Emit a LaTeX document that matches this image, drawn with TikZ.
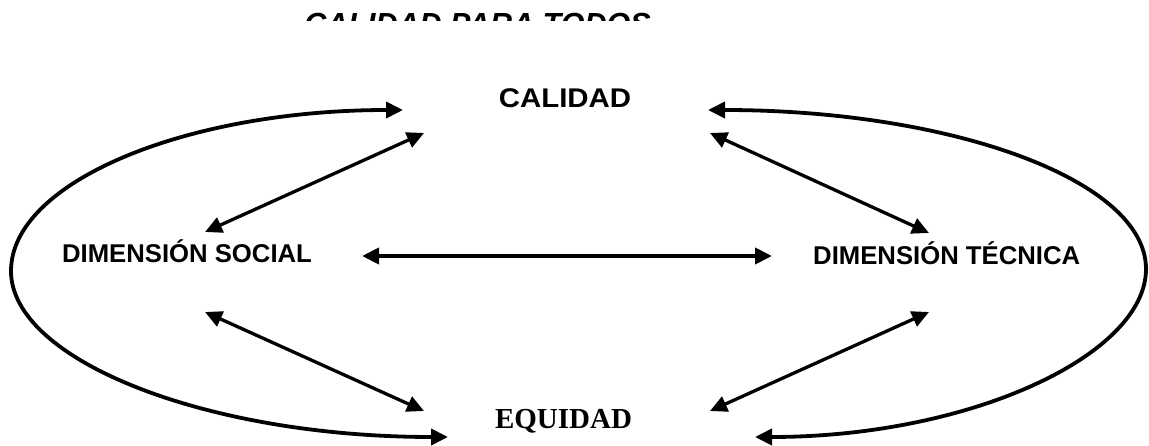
\documentclass[tikz,border=0pt]{standalone}
\usepackage{fontspec}
\setmainfont{Liberation Sans}
\newfontfamily\serifbf{Liberation Serif}
\usetikzlibrary{arrows.meta}
\begin{document}
\begin{tikzpicture}[x=1pt,y=-1pt,
  lbl/.style={font=\bfseries\fontsize{25.7}{30}\selectfont, anchor=base, inner sep=0pt},
  tipb/.tip={Triangle[length=17pt,width=16pt]},
  conn/.style={line width=3.3pt, tipb-tipb},
  loop/.style={line width=3.8pt, tipb-tipb},
]
\useasboundingbox (0,0) rectangle (1149,446);
\begin{scope}
  \clip (0,0) rectangle (1149,20.5);
  \node[anchor=base, inner sep=0pt, font=\bfseries\itshape\fontsize{30.5}{36}\selectfont] (title) at (477.5,35) {CALIDAD PARA TODOS};
\end{scope}

\node[anchor=base, inner sep=0pt, font=\bfseries\fontsize{27}{32}\selectfont, xscale=1.09, transform shape] (cal) at (565,108) {CALIDAD};
\node[lbl] (soc) at (187,263) {DIMENSIÓN SOCIAL};
\node[lbl] (tec) at (946.7,265) {DIMENSIÓN TÉCNICA};
\node[anchor=base, inner sep=0pt, font=\serifbf\bfseries\fontsize{29}{34}\selectfont] (equ) at (563.5,428) {EQUIDAD};

% connector end points
\coordinate (calL) at (403,110);
\coordinate (calR) at (708,110);
\coordinate (equL) at (448,437);
\coordinate (equR) at (755,437);
\coordinate (socU) at (205,232);
\coordinate (socD) at (205,312);
\coordinate (tecU) at (929,233);
\coordinate (tecD) at (929,312);
\coordinate (calDL) at (424,133);
\coordinate (calDR) at (710,133);
\coordinate (equDL) at (424,411);
\coordinate (equDR) at (710,411);
\coordinate (socE) at (362,256);
\coordinate (tecE) at (772,256);

\draw[conn] (socU) -- (calDL);
\draw[conn] (socD) -- (equDL);
\draw[conn] (tecU) -- (calDR);
\draw[conn] (tecD) -- (equDR);
\draw[conn, line width=4pt] (socE) -- (tecE);

\draw[loop] (calL) .. controls (186,110) and (11,182) .. (11,271)
  .. controls (11,360) and (206,437) .. (equL);
\draw[loop] (calR) .. controls (951,110) and (1146,180) .. (1146,269)
  .. controls (1146,355) and (970,437) .. (equR);
\end{tikzpicture}
\end{document}
